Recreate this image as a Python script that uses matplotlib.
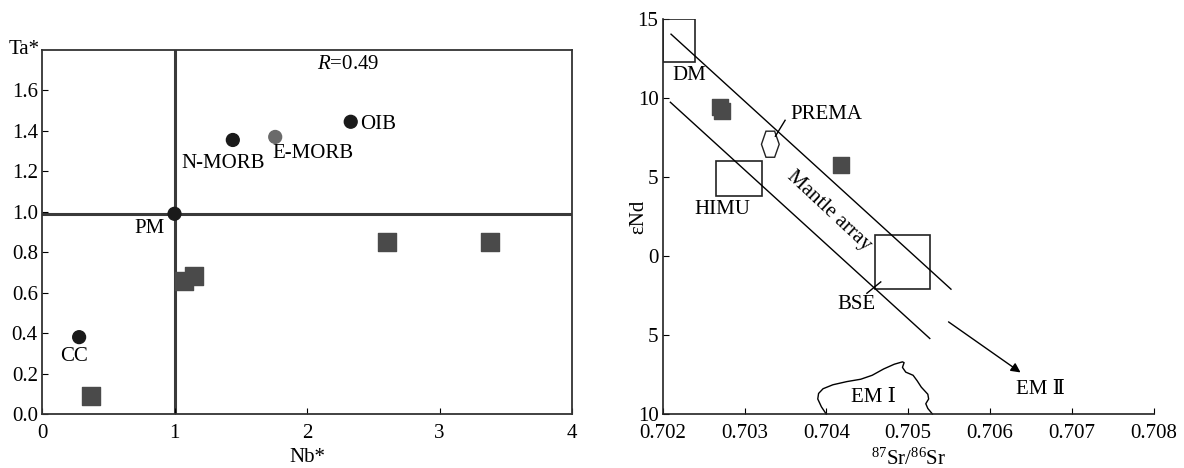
import numpy as np
import matplotlib
matplotlib.use("Agg")
import matplotlib.pyplot as plt
from matplotlib.patches import Rectangle, Polygon

plt.rcParams['font.family'] = ['Liberation Serif', 'DejaVu Serif']
plt.rcParams['mathtext.fontset'] = 'custom'
plt.rcParams['mathtext.rm'] = 'Liberation Serif'
plt.rcParams['mathtext.it'] = 'Liberation Serif:italic'
FS = 15

# ---- left panel data: Nb* vs Ta* ----
ref_names = ["CC", "PM", "N-MORB", "E-MORB", "OIB"]
ref_nb = [0.28, 1.0, 1.44, 1.76, 2.33]
ref_ta = [0.38, 0.99, 1.355, 1.37, 1.445]
ref_col = ["#1a1a1a", "#1a1a1a", "#1a1a1a", "#6a6a6a", "#1a1a1a"]
sample_nb = [0.37, 1.07, 1.15, 2.6, 3.38]
sample_ta = [0.09, 0.66, 0.68, 0.85, 0.85]

# ---- right panel data: 87Sr/86Sr vs eNd ----
sr_samples = [0.70270, 0.70272, 0.70418]
nd_samples = [9.45, 9.2, 5.75]
# reservoir boxes: (sr_min, sr_max, nd_min, nd_max)
dm_box = (0.70200, 0.70239, 12.27, 15.0)
himu_box = (0.70265, 0.70321, 3.77, 6.0)
bse_box = (0.70460, 0.70527, -2.11, 1.31)
prema_sr = [0.703262, 0.703368, 0.703424, 0.703368, 0.703262, 0.703207]
prema_nd = [7.9, 7.9, 7.07, 6.25, 6.25, 7.07]
upper_sr = [0.702102, 0.705523]
upper_nd = [14.04, -2.1]
lower_sr = [0.702094, 0.705264]
lower_nd = [9.73, -5.22]
em2_start = (0.705493, -4.17)
em2_end = (0.706373, -7.37)
em1_sr = [0.703998, 0.703940, 0.703895, 0.703905, 0.703960, 0.704080,
          0.704250, 0.704420, 0.704560, 0.704700, 0.704830, 0.704930,
          0.704950, 0.704930, 0.704970, 0.705060, 0.705110, 0.705160,
          0.705240, 0.705250, 0.705215, 0.705240, 0.705296]
em1_nd = [-10.0, -9.55, -9.05, -8.70, -8.40, -8.15, -7.95, -7.80, -7.55,
          -7.15, -6.85, -6.70, -6.75, -7.05, -7.35, -7.55, -7.90, -8.30,
          -8.75, -9.05, -9.35, -9.65, -10.0]

fig = plt.figure(figsize=(11.84, 4.68), dpi=100)

# ================= left panel =================
ax1 = fig.add_axes([0.0355, 0.1154, 0.4476, 0.7778])
ax1.axvline(1.0, color="#3a3a3a", lw=2.2, zorder=1)
ax1.axhline(0.99, color="#3a3a3a", lw=2.2, zorder=1)
ax1.scatter(sample_nb, sample_ta, marker="s", s=160, color="#4a4a4a", zorder=3)
ax1.scatter(ref_nb, ref_ta, marker="o", s=85, color=ref_col, zorder=3)

ax1.text(0.14, 0.284, "CC", fontsize=FS, va="center")
ax1.text(0.70, 0.915, "PM", fontsize=FS, va="center")
ax1.text(1.05, 1.24, "N-MORB", fontsize=FS, va="center")
ax1.text(1.74, 1.29, "E-MORB", fontsize=FS, va="center")
ax1.text(2.40, 1.43, "OIB", fontsize=FS, va="center")
ax1.text(2.31, 1.73, "$R$=0.49", fontsize=FS, ha="center", va="center")

ax1.set_xlim(0, 4)
ax1.set_ylim(0, 1.8)
ax1.set_xticks([0, 1, 2, 3, 4])
ax1.set_yticks(np.arange(0, 1.61, 0.2))
ax1.set_yticklabels([f"{v:.1f}" for v in np.arange(0, 1.61, 0.2)])
ax1.tick_params(direction="in", length=4, labelsize=FS, pad=3)
ax1.tick_params(axis="x", pad=7)
ax1.set_xlabel("Nb*", fontsize=FS, labelpad=4)
ax1.text(-0.005, 1.0, "Ta*", fontsize=FS, transform=ax1.transAxes,
         ha="right", va="center")
for s in ax1.spines.values():
    s.set_color("#333333")
    s.set_linewidth(1.3)

# ================= right panel =================
ax2 = fig.add_axes([0.5597, 0.1154, 0.4147, 0.844])
for b in (dm_box, himu_box, bse_box):
    ax2.add_patch(Rectangle((b[0], b[2]), b[1] - b[0], b[3] - b[2],
                            fill=False, ec="#222222", lw=1.2, zorder=2))
ax2.add_patch(Polygon(list(zip(prema_sr, prema_nd)), closed=True,
                      fill=False, ec="#222222", lw=1.0))
ax2.plot(upper_sr, upper_nd, color="black", lw=1.0)
ax2.plot(lower_sr, lower_nd, color="black", lw=1.0)
ax2.annotate("", xy=em2_end, xytext=em2_start,
             arrowprops=dict(arrowstyle="-|>", color="black", lw=1.0,
                             mutation_scale=14, shrinkA=0, shrinkB=0))
ax2.plot(em1_sr, em1_nd, color="black", lw=1.0, clip_on=False)
ax2.scatter(sr_samples, nd_samples, marker="s", s=120, color="#4a4a4a", zorder=3)

# leader lines
ax2.plot([0.703377, 0.703496], [7.58, 8.59], color="black", lw=1.0)
ax2.plot([0.704495, 0.704665], [-2.36, -1.64], color="black", lw=1.0)

ax2.text(0.702115, 11.43, "DM", fontsize=FS, va="center")
ax2.text(0.702382, 2.95, "HIMU", fontsize=FS, va="center")
ax2.text(0.704133, -3.05, "BSE", fontsize=FS, va="center")
ax2.text(0.703560, 8.95, "PREMA", fontsize=FS, va="center")
ax2.text(0.704027, 2.84, "Mantle array", fontsize=FS, rotation=-43,
         ha="center", va="center")
ax2.text(0.704580, -8.95, "EM Ⅰ", fontsize=FS, ha="center", va="center",
         family=["Liberation Serif", "DejaVu Serif", "Noto Sans CJK SC"])
ax2.text(0.706620, -8.42, "EM Ⅱ", fontsize=FS, ha="center", va="center",
         family=["Liberation Serif", "DejaVu Serif", "Noto Sans CJK SC"])

ax2.set_xlim(0.702, 0.708)
ax2.set_ylim(-10, 15)
ax2.set_xticks(np.arange(0.702, 0.70801, 0.001))
ax2.set_xticklabels([f"{v:.3f}" for v in np.arange(0.702, 0.70801, 0.001)])
ax2.set_yticks([-10, -5, 0, 5, 10, 15])
ax2.set_yticklabels(["10", "5", "0", "5", "10", "15"])
ax2.tick_params(direction="in", length=4, labelsize=FS, pad=3)
ax2.tick_params(axis="x", pad=7)
ax2.spines["top"].set_visible(False)
ax2.spines["right"].set_visible(False)
for s in ("left", "bottom"):
    ax2.spines[s].set_color("#222222")
    ax2.spines[s].set_linewidth(1.2)
ax2.set_xlabel("$^{87}$Sr/$^{86}$Sr", fontsize=FS, labelpad=4)
ax2.set_ylabel("εNd", fontsize=FS)
ax2.yaxis.set_label_coords(-0.03, 0.5)

fig.savefig("out.png", dpi=100)
